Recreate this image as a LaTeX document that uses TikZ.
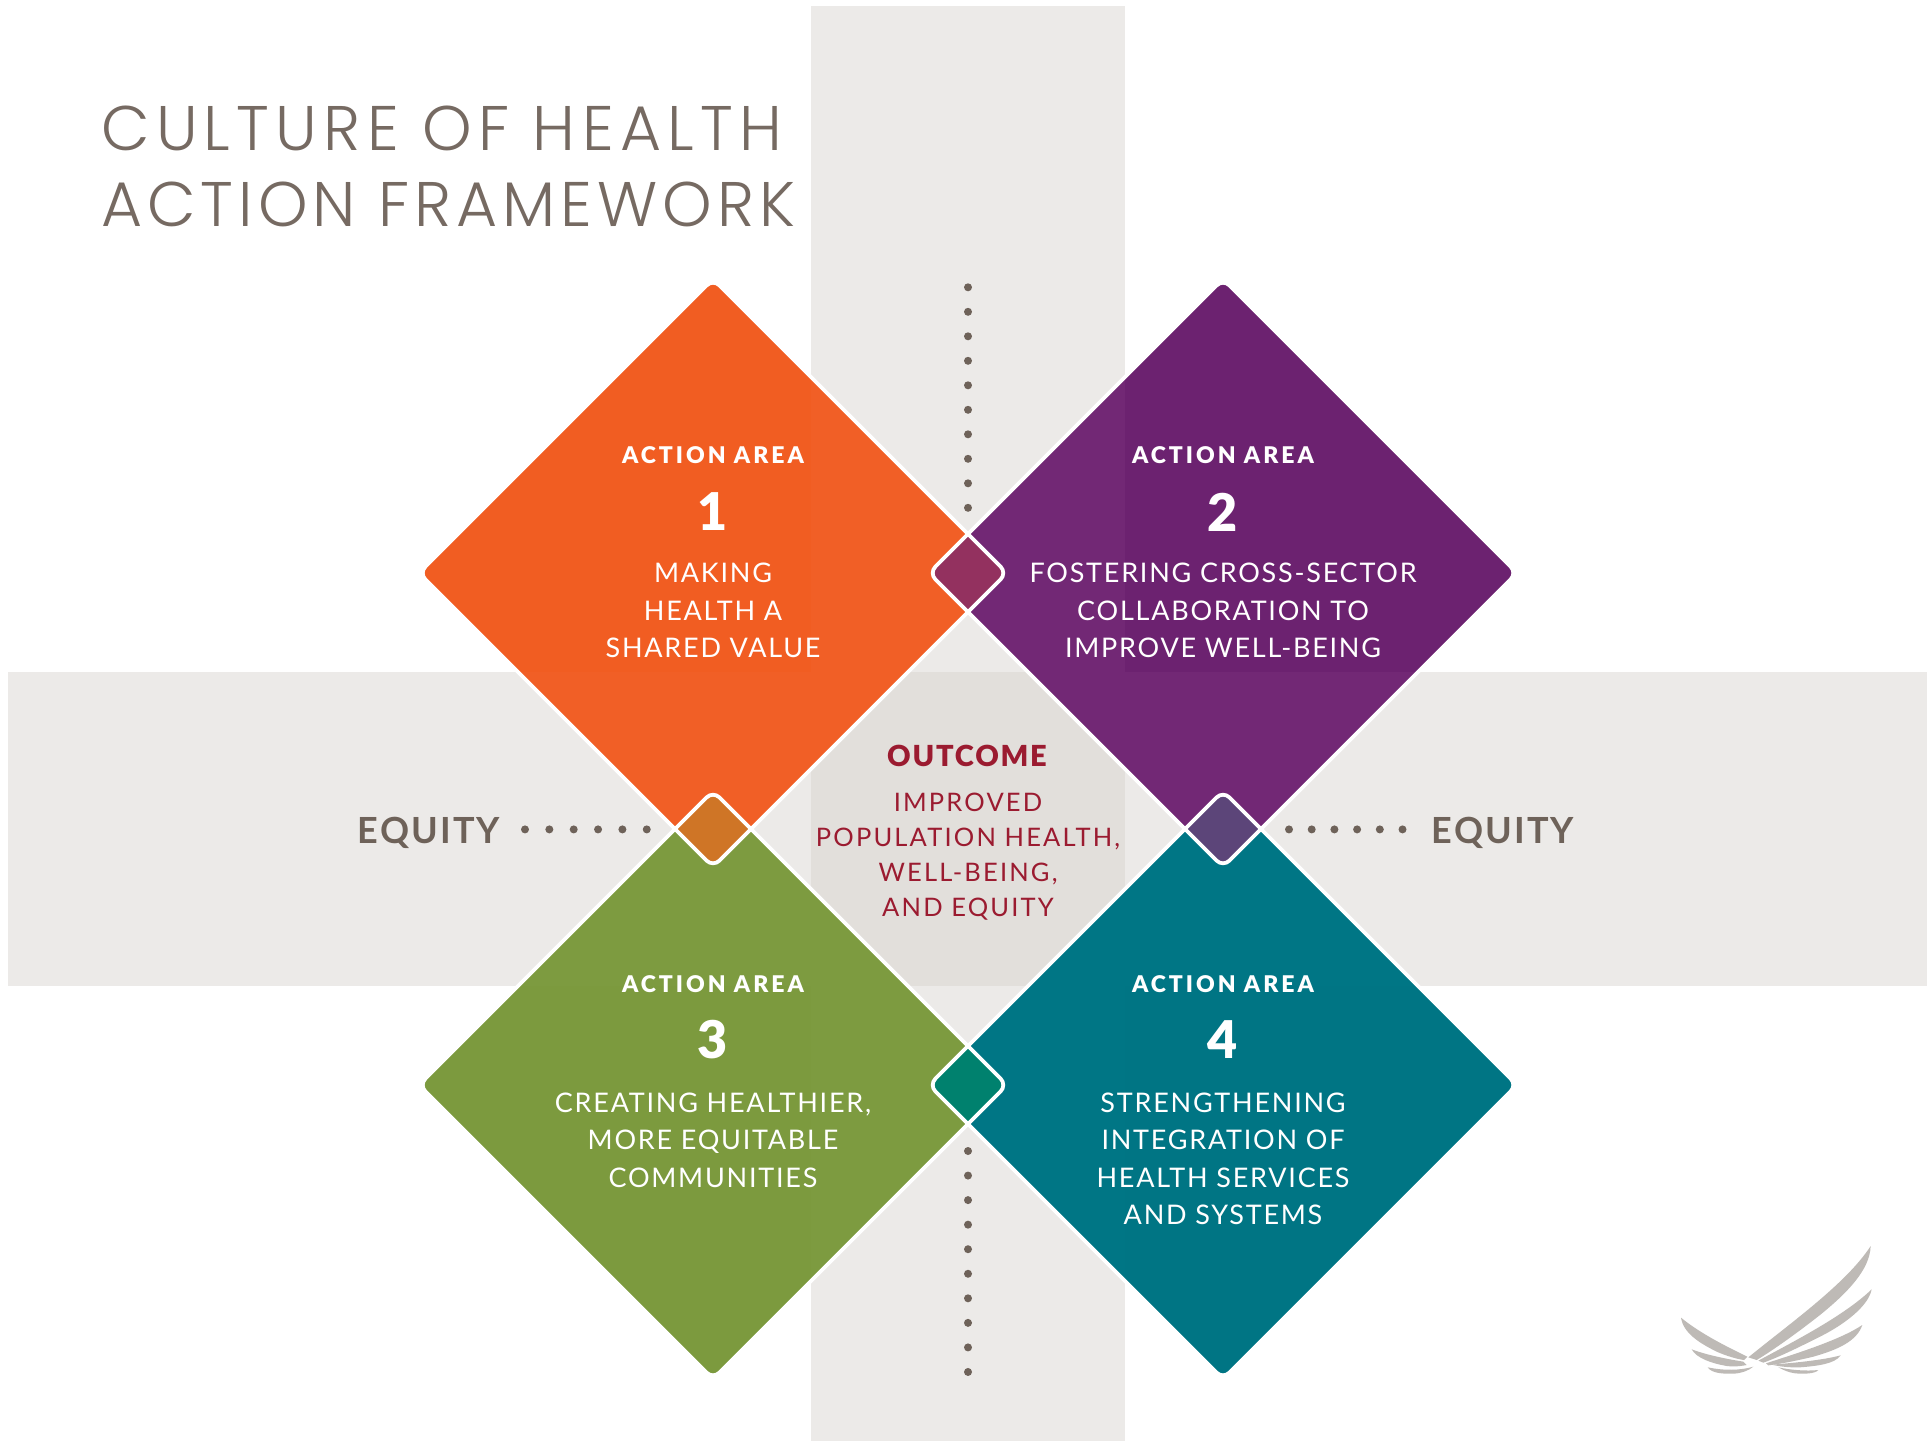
\documentclass[tikz,border=0pt]{standalone}
\usepackage{fontspec}
\setmainfont{Lato}
\newfontfamily\titlefont[LetterSpace=8]{Poppins Light}
\newfontfamily\titlefontwide[LetterSpace=10]{Poppins Light}
\newfontfamily\bodyfont[LetterSpace=6.5]{Lato}
\newfontfamily\outfont[LetterSpace=8.5]{Lato}
\newfontfamily\headfont[LetterSpace=13]{Lato Black}
\newfontfamily\outheadfont[LetterSpace=6]{Lato Black}
\newfontfamily\numfont{Lato Black}
\newfontfamily\equityfont[LetterSpace=6]{Lato Bold}
\definecolor{bandgray}{RGB}{214,210,205}
\definecolor{titlegray}{RGB}{118,106,98}
\definecolor{equitygray}{RGB}{110,98,89}
\definecolor{outcomered}{RGB}{155,27,48}
\definecolor{cOrange}{HTML}{F15D22}\definecolor{cOrangeT}{HTML}{F15F26}
\definecolor{cPurple}{HTML}{6C2270}\definecolor{cPurpleT}{HTML}{722875}
\definecolor{cGreen}{HTML}{7C9A3E}\definecolor{cGreenT}{HTML}{7D9B40}
\definecolor{cTeal}{HTML}{007584}\definecolor{cTealT}{HTML}{007685}
\definecolor{oTop}{HTML}{93315F}\definecolor{oLeft}{HTML}{CF7526}
\definecolor{oRight}{HTML}{5C4579}\definecolor{oBottom}{HTML}{00816E}
\definecolor{wing}{RGB}{190,186,182}
\tikzset{
  band/.style={fill=bandgray,fill opacity=.45,draw=none},
  diaedge/.style={draw=white,line width=3.8pt,rounded corners=9pt},
  diafill/.style={rounded corners=9pt},
  dotline/.style={draw=equitygray,line width=8pt,line cap=round,dash pattern=on 0pt off #1},
  headtxt/.style={inner sep=0,text=white,font=\fontsize{23}{26}\headfont},
  numtxt/.style={inner sep=0,text=white,font=\fontsize{52}{56}\numfont},
  bodytxt/.style={inner sep=0,text=white,align=center,font=\fontsize{27}{37.5}\bodyfont},
  outhead/.style={inner sep=0,text=outcomered,font=\fontsize{29}{32}\outheadfont},
  outbody/.style={inner sep=0,text=outcomered,align=center,font=\fontsize{25.5}{35.2}\outfont},
  equitytxt/.style={inner sep=0,text=equitygray,font=\fontsize{36}{40}\equityfont},
  titletxt/.style={inner sep=0,text=titlegray,align=left,font=\fontsize{63}{76}\titlefont},
  feather/.style={fill=wing,draw=none}
}
\newcommand{\diaPath}{(-294,0) -- (0,-294) -- (294,0) -- (0,294) -- cycle}
\newcommand{\bandClip}{(811,6) rectangle (1125,1441) (8,672) rectangle (1927,986)}
\newcommand{\Dia}[3]{\path[fill=#1,diafill,shift={(#2,#3)}] \diaPath;}
\newcommand{\DiaT}[3]{\begin{scope}\clip \bandClip;\path[fill=#1,diafill,shift={(#2,#3)}] \diaPath;\end{scope}}
\newcommand{\Over}[5]{\begin{scope}\clip[diafill,shift={(#2,#3)}] \diaPath;\path[fill=#1,diafill,shift={(#4,#5)}] \diaPath;\end{scope}}
\newcommand{\Edge}[2]{\path[diaedge,shift={(#1,#2)}] \diaPath;}
\begin{document}
\begin{tikzpicture}[x=1pt,y=-1pt]
\useasboundingbox (0,0) rectangle (1927,1441);
\fill[white] (0,0) rectangle (1927,1441);
% bands
\path[band] (811,6) rectangle (1125,1441);
\path[band] (8,672) rectangle (1927,986);
% diamonds
\Dia{cOrange}{713}{573}\Dia{cPurple}{1223}{573}\Dia{cGreen}{713}{1085}\Dia{cTeal}{1223}{1085}
\DiaT{cOrangeT}{713}{573}\DiaT{cPurpleT}{1223}{573}\DiaT{cGreenT}{713}{1085}\DiaT{cTealT}{1223}{1085}
% overlaps
\Over{oTop}{713}{573}{1223}{573}
\Over{oLeft}{713}{573}{713}{1085}
\Over{oRight}{1223}{573}{1223}{1085}
\Over{oBottom}{713}{1085}{1223}{1085}
\Edge{713}{573}\Edge{1223}{573}\Edge{713}{1085}\Edge{1223}{1085}
% dotted lines
\coordinate (vt1) at (968,287.3);\coordinate (vt2) at (968,509);
\coordinate (vb1) at (968,1151);\coordinate (vb2) at (968,1373);
\coordinate (hl1) at (525,829.4);\coordinate (hl2) at (648,829.4);
\coordinate (hr1) at (1289,829.4);\coordinate (hr2) at (1404,829.4);
\draw[dotline=24.5pt] (vt1) -- (vt2);
\draw[dotline=24.55pt] (vb1) -- (vb2);
\draw[dotline=24.35pt] (hl1) -- (hl2);
\draw[dotline=22.7pt] (hr1) -- (hr2);
% title
\node[titletxt,anchor=west] (title) at (101,166) {{\titlefontwide CULTURE OF HEALTH}\\ACTION FRAMEWORK};
% area 1
\node[headtxt] (h1) at (713,455.5) {ACTION AREA};
\node[numtxt] (n1) at (713,512) {1};
\node[bodytxt] (b1) at (713,610.5) {MAKING\\HEALTH A\\SHARED VALUE};
% area 2
\node[headtxt] (h2) at (1223,455.5) {ACTION AREA};
\node[numtxt] (n2) at (1223,512) {2};
\node[bodytxt] (b2) at (1223,610.5) {FOSTERING CROSS-SECTOR\\COLLABORATION TO\\IMPROVE WELL-BEING};
% area 3
\node[headtxt] (h3) at (713,984) {ACTION AREA};
\node[numtxt] (n3) at (713,1040) {3};
\node[bodytxt] (b3) at (713,1140) {CREATING HEALTHIER,\\MORE EQUITABLE\\COMMUNITIES};
% area 4
\node[headtxt] (h4) at (1223,984) {ACTION AREA};
\node[numtxt] (n4) at (1223,1040) {4};
\node[bodytxt] (b4) at (1223,1159) {STRENGTHENING\\INTEGRATION OF\\HEALTH SERVICES\\AND SYSTEMS};
% outcome
\node[outhead] (oh) at (967,756) {OUTCOME};
\node[outbody] (ob) at (968,856.5) {IMPROVED\\POPULATION HEALTH,\\WELL-BEING,\\AND EQUITY};
% equity
\node[equitytxt] (eql) at (429,833) {EQUITY};
\node[equitytxt] (eqr) at (1503,833) {EQUITY};
% wing
\begin{scope}[shift={(1640,1210)},x=0.3333pt,y=-0.3333pt]
\fill[feather] (325,442) .. controls (450,340) and (620,220) .. (692,108) .. controls (690,180) and (620,250) .. (540,315) .. controls (470,370) and (400,420) .. (350,450) -- cycle;
\fill[feather] (355,452) .. controls (450,400) and (610,320) .. (695,238) .. controls (685,290) and (610,345) .. (540,380) .. controls (480,410) and (420,440) .. (370,458) -- cycle;
\fill[feather] (378,460) .. controls (470,430) and (600,390) .. (667,345) .. controls (650,395) and (590,420) .. (520,440) .. controls (470,452) and (420,462) .. (385,466) -- cycle;
\fill[feather] (395,464) .. controls (470,458) and (550,450) .. (602,436) .. controls (585,462) and (530,468) .. (480,472) .. controls (450,473) and (420,470) .. (395,464) -- cycle;
\fill[feather] (415,472) .. controls (450,480) and (500,484) .. (535,480) .. controls (525,492) and (490,492) .. (465,490) .. controls (445,487) and (430,480) .. (415,472) -- cycle;
\fill[feather] (322,440) .. controls (260,410) and (180,370) .. (123,323) .. controls (130,370) and (180,400) .. (230,425) .. controls (260,438) and (290,447) .. (312,450) -- cycle;
\fill[feather] (310,455) .. controls (260,447) and (200,435) .. (155,418) .. controls (170,445) and (215,460) .. (260,468) .. controls (275,470) and (295,470) .. (320,465) -- cycle;
\fill[feather] (340,470) .. controls (300,482) and (250,482) .. (203,472) .. controls (215,490) and (250,492) .. (280,491) .. controls (305,490) and (325,482) .. (340,470) -- cycle;
\end{scope}
\end{tikzpicture}
\end{document}
